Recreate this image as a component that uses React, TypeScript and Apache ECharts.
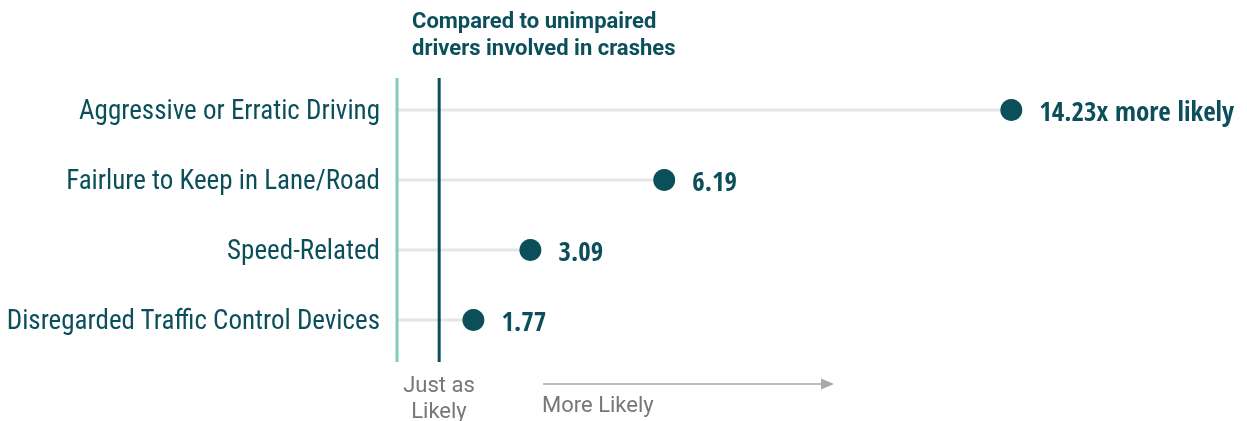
import React, { useEffect, useRef } from "react";
import * as echarts from "echarts";

const categories = [
  "Aggressive or Erratic Driving",
  "Fairlure to Keep in Lane/Road",
  "Speed-Related",
  "Disregarded Traffic Control Devices",
];
const values = [14.23, 6.19, 3.09, 1.77];
const valueLabels = ["14.23x more likely", "6.19", "3.09", "1.77"];
const baseline = 1;
const titleLines = ["Compared to unimpaired", "drivers involved in crashes"];
const bottomLeftText = "Just as\nLikely";
const bottomRightText = "More Likely";

const DARK = "#0b4f5b";
const TEAL = "#82cbbb";
const STEM = "#e5e5e5";
const GRAY = "#777777";
const CAT_FONT = '"Roboto Condensed", sans-serif';
const VAL_FONT = '"Open Sans Condensed", sans-serif';

export default function App() {
  const ref = useRef<HTMLDivElement>(null);
  useEffect(() => {
    if (!ref.current) return;
    const chart = echarts.init(ref.current, null, { renderer: "svg" });
    const gridLeft = 397;
    const xMax = 18;
    const pxPerUnit = 43.17;
    const gridTop = 75;
    const gridH = 280;
    chart.setOption({
      animation: false,
      grid: {
        left: gridLeft,
        top: gridTop,
        width: pxPerUnit * xMax,
        height: gridH,
        outerBoundsMode: "none",
        containLabel: false,
      },
      xAxis: { type: "value", min: 0, max: xMax, show: false },
      yAxis: {
        type: "category",
        inverse: true,
        data: categories,
        axisLine: { show: false },
        axisTick: { show: false },
        splitLine: { show: false },
        axisLabel: {
          margin: 17,
          fontFamily: CAT_FONT,
          fontSize: 27,
          color: DARK,
        },
      },
      series: [
        {
          type: "bar",
          data: values,
          barWidth: 3,
          silent: true,
          itemStyle: { color: STEM },
          z: 1,
        },
        {
          type: "scatter",
          data: values,
          symbolSize: 22,
          itemStyle: { color: DARK, opacity: 1 },
          z: 5,
          label: {
            show: true,
            position: "right",
            distance: 17,
            formatter: (p: any) => valueLabels[p.dataIndex],
            fontFamily: VAL_FONT,
            fontWeight: "bold",
            fontSize: 27,
            color: DARK,
          },
        },
      ],
    });
    const x0 = chart.convertToPixel({ xAxisIndex: 0 }, 0) as number;
    const x1 = chart.convertToPixel({ xAxisIndex: 0 }, baseline) as number;
    const lineTop = 78;
    const lineBottom = 362;
    chart.setOption({
      graphic: [
        {
          type: "line",
          shape: { x1: x0, y1: lineTop, x2: x0, y2: lineBottom },
          style: { stroke: TEAL, lineWidth: 3 },
          z: 10,
        },
        {
          type: "line",
          shape: { x1: x1 - 1, y1: lineTop, x2: x1 - 1, y2: lineBottom },
          style: { stroke: DARK, lineWidth: 3 },
          z: 10,
        },
        {
          type: "text",
          left: 412,
          top: 7,
          style: {
            text: titleLines.join("\n"),
            fontFamily: "Roboto, sans-serif",
            fontWeight: "bold",
            fontSize: 22,
            lineHeight: 27,
            fill: DARK,
          },
        },
        {
          type: "text",
          x: 439,
          y: 371,
          style: {
            text: bottomLeftText,
            align: "center",
            fontFamily: "Roboto, sans-serif",
            fontSize: 22,
            lineHeight: 26,
            fill: GRAY,
          },
        },
        {
          type: "text",
          x: 542,
          y: 393,
          style: {
            text: bottomRightText,
            fontFamily: "Roboto, sans-serif",
            fontSize: 22,
            fill: GRAY,
          },
        },
        {
          type: "line",
          shape: { x1: 543, y1: 384, x2: 824, y2: 384 },
          style: { stroke: "#a8a8a8", lineWidth: 1.5 },
        },
        {
          type: "polygon",
          shape: { points: [[821, 378.5], [834, 384], [821, 389.5]] },
          style: { fill: "#a8a8a8" },
        },
      ],
    });
    return () => chart.dispose();
  }, []);
  return (
    <div
      ref={ref}
      style={{ position: "fixed", left: 0, top: 0, width: 1247, height: 421 }}
    />
  );
}
